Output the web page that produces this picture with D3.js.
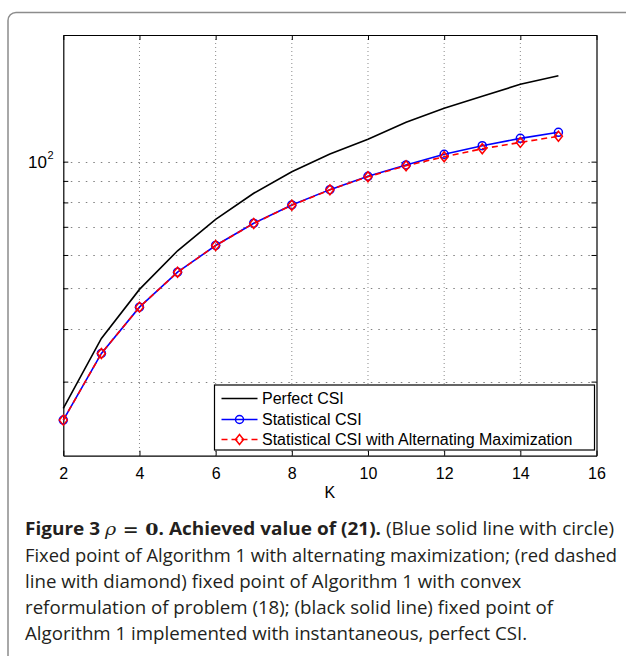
<!DOCTYPE html>
<html>
<head>
<meta charset="utf-8">
<script src="https://cdn.jsdelivr.net/npm/d3@7"></script>
<style>
  body { margin: 0; background: #fff; }
  svg { display: block; }
</style>
</head>
<body>
<div id="chart"></div>
<script>
// values
const K = [2, 3, 4, 5, 6, 7, 8, 9, 10, 11, 12, 13, 14, 15];
const perfectCSI = [25.9, 38.0, 49.7, 61.4, 72.9, 84.1, 94.6, 104.3, 113.0, 124.1, 133.9, 143.0, 152.7, 160.1];
const statisticalCSI = [24.3, 35.0, 45.1, 54.6, 63.2, 71.4, 78.9, 85.8, 92.3, 98.2, 104.1, 109.1, 113.6, 117.4];
const statAltMax = [24.3, 35.0, 45.1, 54.6, 63.2, 71.3, 78.8, 85.7, 92.1, 97.8, 102.7, 107.3, 111.1, 114.9];
const xTicks = [2, 4, 6, 8, 10, 12, 14, 16];
const yMinor = [30, 40, 50, 60, 70, 80, 90];
const yMajor = [100];
const legendLabels = ["Perfect CSI", "Statistical CSI", "Statistical CSI with Alternating Maximization"];
const captionLines = [
  "(Blue solid line with circle)",
  "Fixed point of Algorithm 1 with alternating maximization; (red dashed",
  "line with diamond) fixed point of Algorithm 1 with convex",
  "reformulation of problem (18); (black solid line) fixed point of",
  "Algorithm 1 implemented with instantaneous, perfect CSI."
];

const W = 626, H = 656;
const plotL = 63.3, plotR = 596.5, plotT = 35, plotB = 455.7;

const svg = d3.select("#chart").append("svg")
  .attr("width", W).attr("height", H);

// panel frame
svg.append("rect")
  .attr("x", 8).attr("y", 12.5)
  .attr("width", 700).attr("height", 700)
  .attr("rx", 8)
  .attr("fill", "none")
  .attr("stroke", "#8c8c8c")
  .attr("stroke-width", 1.5);

var x = d3.scaleLinear().domain([2, 16]).range([plotL, plotR]);
var y = d3.scaleLog().domain([20, 200]).range([plotB, plotT]);

const font = "'Liberation Sans', Arial, Helvetica, sans-serif";

// grid
var grid = svg.append("g");
grid.selectAll(".vg")
  .data(xTicks.slice(1, -1))
  .enter().append("line")
  .attr("x1", d => x(d)).attr("x2", d => x(d))
  .attr("y1", plotT).attr("y2", plotB)
  .attr("stroke", "#8a8a8a").attr("stroke-width", 1)
  .attr("stroke-dasharray", "1,3");
grid.selectAll(".hg")
  .data(yMinor.concat(yMajor))
  .enter().append("line")
  .attr("x1", plotL).attr("x2", plotR)
  .attr("y1", d => Math.round(y(d)) + 0.5).attr("y2", d => Math.round(y(d)) + 0.5)
  .attr("stroke", "#808080").attr("stroke-width", 1.2)
  .attr("stroke-dasharray", "1.5,6");

// axes
var xAxisB = d3.axisBottom(x).tickValues(xTicks).tickSizeInner(-5).tickSizeOuter(0).tickPadding(12);
var xAxisT = d3.axisTop(x).tickValues(xTicks).tickSizeInner(-5).tickSizeOuter(0).tickFormat("");
var yAxisL = d3.axisLeft(y).tickValues(yMinor.concat(yMajor)).tickSizeInner(-5).tickSizeOuter(0).tickFormat("");
var yAxisR = d3.axisRight(y).tickValues(yMinor.concat(yMajor)).tickSizeInner(-5).tickSizeOuter(0).tickFormat("");

function styleAxis(g) {
  g.select(".domain").attr("stroke", "#000").attr("stroke-width", 1.2);
  g.selectAll(".tick line").attr("stroke", "#000");
  g.selectAll("text").attr("font-family", font).attr("font-size", 16).attr("fill", "#000");
}

svg.append("g").attr("transform", `translate(0,${plotB})`).call(xAxisB).call(styleAxis);
svg.append("g").attr("transform", `translate(0,${plotT})`).call(xAxisT).call(styleAxis);
svg.append("g").attr("transform", `translate(${plotL},0)`).call(yAxisL).call(styleAxis);
svg.append("g").attr("transform", `translate(${plotR},0)`).call(yAxisR).call(styleAxis);

// y label 10^2
svg.append("text")
  .attr("x", 47).attr("y", y(100) + 6.5)
  .attr("text-anchor", "end")
  .attr("font-family", font).attr("font-size", 17)
  .text("10");
svg.append("text")
  .attr("x", 47.5).attr("y", y(100) - 2.5)
  .attr("font-family", font).attr("font-size", 11)
  .text("2");

// x label
svg.append("text")
  .attr("x", x(9)).attr("y", 498)
  .attr("text-anchor", "middle")
  .attr("font-family", font).attr("font-size", 16)
  .text("K");

// lines
var line = d3.line().x((d, i) => x(K[i])).y(d => y(d));

svg.append("path").datum(perfectCSI)
  .attr("d", line).attr("fill", "none")
  .attr("stroke", "#000").attr("stroke-width", 1.6);

svg.append("path").datum(statisticalCSI)
  .attr("d", line).attr("fill", "none")
  .attr("stroke", "#0000ff").attr("stroke-width", 1.6);
svg.selectAll(".circ")
  .data(statisticalCSI)
  .enter().append("circle")
  .attr("cx", (d, i) => x(K[i])).attr("cy", d => y(d))
  .attr("r", 4).attr("fill", "none")
  .attr("stroke", "#0000ff").attr("stroke-width", 1.5);

svg.append("path").datum(statAltMax)
  .attr("d", line).attr("fill", "none")
  .attr("stroke", "#ff0000").attr("stroke-width", 1.6)
  .attr("stroke-dasharray", "6,4");

var diamond = "M0,-5L4,0L0,5L-4,0Z";
svg.selectAll(".dia")
  .data(statAltMax)
  .enter().append("path")
  .attr("d", diamond)
  .attr("transform", (d, i) => `translate(${x(K[i])},${y(d)})`)
  .attr("fill", "none")
  .attr("stroke", "#ff0000").attr("stroke-width", 1.5);

// legend
var lg = svg.append("g");
lg.append("rect")
  .attr("x", 214.5).attr("y", 385)
  .attr("width", 380).attr("height", 65)
  .attr("fill", "#fff").attr("stroke", "#000").attr("stroke-width", 1.2);

var rows = [398.5, 419.5, 439.5];
var lcol = ["#000", "#0000ff", "#ff0000"];
var ldash = [null, null, "6,4"];
legendLabels.forEach(function (lab, i) {
  lg.append("line")
    .attr("x1", 221.5).attr("x2", 257.5)
    .attr("y1", rows[i]).attr("y2", rows[i])
    .attr("stroke", lcol[i]).attr("stroke-width", 1.6)
    .attr("stroke-dasharray", ldash[i]);
  lg.append("text")
    .attr("x", 262).attr("y", rows[i] + 5.5)
    .attr("font-family", font).attr("font-size", 16)
    .text(lab);
});
lg.append("circle").attr("cx", 239.5).attr("cy", rows[1]).attr("r", 4)
  .attr("fill", "none").attr("stroke", "#0000ff").attr("stroke-width", 1.5);
lg.append("path").attr("d", diamond)
  .attr("transform", `translate(239.5,${rows[2]})`)
  .attr("fill", "none").attr("stroke", "#ff0000").attr("stroke-width", 1.5);

// caption
const capFont = "'Open Sans', 'Noto Sans', sans-serif";
const capBase = [535, 561.5, 588, 614, 640];
const capWidth = [589, 592];   // first two lines run to the right margin

var capTexts = [];
var c0 = svg.append("text")
  .attr("x", 25).attr("y", capBase[0])
  .attr("font-family", capFont).attr("font-size", 17.5)
  .attr("fill", "#231f20");
c0.append("tspan").attr("font-weight", "bold").text("Figure 3 ");
c0.append("tspan").attr("font-style", "italic").attr("font-family", "'DejaVu Serif', serif").text("\u03C1");
c0.append("tspan").attr("font-family", "'DejaVu Serif', serif").attr("font-weight", "bold").text(" = 0");
c0.append("tspan").attr("font-weight", "bold").text(". Achieved value of (21).");
c0.append("tspan").text(" " + captionLines[0]);
capTexts.push(c0);

captionLines.slice(1).forEach(function (t, i) {
  capTexts.push(svg.append("text")
    .attr("x", 25).attr("y", capBase[i + 1])
    .attr("font-family", capFont).attr("font-size", 17.5)
    .attr("fill", "#231f20")
    .text(t));
});

// same horizontal squeeze on every line, taken from the full-width lines
var nat = capTexts.map(t => t.node().getComputedTextLength());
var s = d3.mean([0, 1], i => capWidth[i] / nat[i]);
capTexts.forEach(function (t, i) {
  t.attr("textLength", i < 2 ? capWidth[i] : nat[i] * s)
    .attr("lengthAdjust", "spacingAndGlyphs");
});
</script>
</body>
</html>
